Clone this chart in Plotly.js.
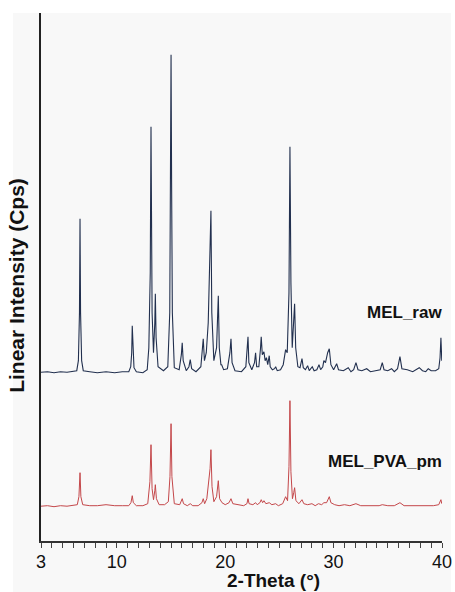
<!DOCTYPE html>
<html>
<head>
<meta charset="utf-8">
<script src="https://cdn.plot.ly/plotly-3.0.1.min.js"></script>
<style>html,body{margin:0;padding:0;background:#fff;}#chart{width:455px;height:592px;}</style>
</head>
<body>
<div id="chart"></div>
<script>
// Tick labels on the 2-Theta axis
const tickValues = [3,4,5,6,7,8,9,10,11,12,13,14,15,16,17,18,19,20,21,22,23,24,25,26,27,28,29,30,31,32,33,34,35,36,37,38,39,40];
const labelledTicks = [3, 10, 20, 30, 40];

// Series names and axis titles
const seriesNames = ["MEL_raw", "MEL_PVA_pm"];
const xTitle = "2-Theta (°)";
const yTitle = "Linear Intensity (Cps)";

// MEL_raw pattern: [2-Theta (°), intensity (a.u.)]
const melRaw = [
 [3.0,0.5],[3.6,1],[4.2,0],[4.8,1],[5.4,0.5],[6.0,1],[6.3,2],
 [6.45,12],[6.55,60],[6.6,154],[6.65,60],[6.75,12],[6.9,2],
 [7.5,1],[8.2,0],[9.0,1],[9.8,0],[10.5,1],[11.1,1],
 [11.28,6],[11.37,20],[11.42,47],[11.48,20],[11.58,5],
 [11.8,1],[12.4,0],[12.8,3],
 [12.95,25],[13.08,100],[13.15,246],[13.25,60],[13.38,20],[13.5,50],[13.55,79],[13.62,35],[13.8,6],
 [14.3,2],[14.7,6],[14.88,60],[14.95,190],[15.0,318],[15.05,190],[15.12,60],[15.3,5],
 [15.75,3],[15.95,18],[16.03,30],[16.12,12],[16.4,2],
 [16.65,6],[16.77,13],[16.9,4],[17.3,1],
 [17.75,6],[17.9,25],[17.97,34],[18.08,12],[18.25,20],[18.43,50],[18.6,110],[18.68,162],[18.76,60],[18.95,12],
 [19.2,25],[19.36,77],[19.45,25],[19.6,8],[19.67,8],[19.85,3],
 [20.2,4],[20.43,20],[20.53,34],[20.63,10],[20.9,2],
 [21.5,1],[21.9,6],[22.03,24],[22.1,36],[22.18,10],[22.45,3],
 [22.7,10],[22.8,20],[22.9,6],[23.1,6],[23.25,24],[23.32,36],[23.42,18],[23.57,21],[23.68,12],[23.8,15],[23.92,8],
 [24.06,17],[24.15,6],[24.35,3],[24.55,4],[24.65,6],[24.8,2],[25.1,3],[25.35,8],[25.5,18],[25.57,23],[25.72,20],
 [25.88,80],[25.97,226],[26.06,90],[26.18,25],[26.3,45],[26.4,69],[26.5,25],[26.7,6],[26.9,5],
 [27.08,14],[27.2,5],[27.4,3],[27.6,7],[27.75,2],[28.03,6],[28.2,2],[28.45,3],[28.65,8],[28.8,3],
 [29.0,6],[29.1,12],[29.25,10],[29.45,20],[29.6,24],[29.75,8],[30.0,3],[30.28,9],[30.45,3],[30.9,2],
 [31.35,5],[31.6,1],[31.85,3],[32.06,10],[32.25,3],[32.6,2],[33.05,4],[33.4,1],[33.8,2],
 [34.3,3],[34.49,10],[34.65,3],[35.0,2],[35.35,4],[35.6,1],[35.9,4],[36.12,16],[36.3,4],
 [36.8,3],[37.3,1],[37.9,5],[38.2,2],[38.5,1],[38.73,4],[39.0,2],[39.4,2],[39.7,4],
 [39.82,15],[39.9,35],[39.98,12]
];

// MEL_PVA_pm pattern: [2-Theta (°), intensity (a.u.)]
const melPvaPm = [
 [3.0,0.5],[3.6,1],[4.2,0],[4.8,1],[5.4,0.5],[6.0,1],[6.35,2],[6.5,10],[6.6,34],[6.68,10],[6.85,2],
 [7.5,1],[8.2,1],[9.0,2],[9.8,1],[10.5,1],[11.1,1],[11.3,4],[11.42,11],[11.52,4],[11.8,1],[12.4,1],
 [12.85,3],[13.05,25],[13.15,62],[13.25,18],[13.38,7],[13.5,16],[13.55,22],[13.65,8],[13.9,2],
 [14.4,2],[14.75,5],[14.9,30],[15.0,83],[15.08,30],[15.3,3],[15.8,2],[16.03,8],[16.15,3],[16.5,1],
 [16.77,3],[17.0,1],[17.5,1],[17.85,4],[17.97,8],[18.1,3],[18.3,8],[18.43,19],[18.6,38],[18.68,57],
 [18.78,20],[18.95,5],[19.2,10],[19.36,26],[19.48,8],[19.7,4],[20.0,2],[20.35,4],[20.53,8],[20.7,3],
 [21.2,2],[21.7,1],[22.0,3],[22.1,8],[22.2,3],[22.55,2],[22.8,4],[22.95,2],[23.2,4],[23.32,7],
 [23.45,4],[23.57,6],[23.75,3],[24.06,4],[24.3,2],[24.65,3],[24.9,1],[25.3,3],[25.57,10],[25.75,6],
 [25.88,40],[25.97,106],[26.06,35],[26.2,8],[26.32,14],[26.4,19],[26.52,6],[26.8,3],[27.08,7],
 [27.25,3],[27.6,2],[28.0,3],[28.3,1],[28.6,3],[28.9,2],[29.1,4],[29.35,4],[29.5,8],[29.6,10],
 [29.75,4],[30.1,2],[30.5,1],[31.0,2],[31.5,1],[32.06,3],[32.5,1],[33.0,1],[33.6,1],[34.2,1],
 [34.49,2],[35.0,1],[35.6,1],[36.12,4],[36.5,1],[37.2,1],[37.8,1],[38.5,1],[39.2,1],[39.7,2],
 [39.85,5],[39.9,7],[39.98,3]
];

// vertical stacking offset of the MEL_raw pattern (a.u.)
const rawOffset = 134;

const font = "Liberation Sans, Arial, sans-serif";

const traces = [
  {
    x: melPvaPm.map(p => p[0]),
    y: melPvaPm.map(p => p[1]),
    name: seriesNames[1], type: "scatter", mode: "lines",
    line: {color: "#c4474a", width: 1}
  },
  {
    x: melRaw.map(p => p[0]),
    y: melRaw.map(p => p[1] + rawOffset),
    name: seriesNames[0], type: "scatter", mode: "lines",
    line: {color: "#22304f", width: 1.1}
  }
];

const layout = {
  width: 455, height: 592,
  margin: {l: 41, r: 13, t: 13, b: 51},
  paper_bgcolor: "#ffffff",
  plot_bgcolor: "rgba(0,0,0,0)",
  showlegend: false,
  font: {family: font, color: "#111"},
  shapes: [{
    type: "rect", xref: "paper", yref: "paper",
    x0: -0.0698, x1: 1.0224, y0: -0.0966, y1: 1,
    fillcolor: "#f8f8f8", line: {width: 0}, layer: "below"
  }],
  xaxis: {
    range: [3, 40], showgrid: false, zeroline: false,
    showline: true, linecolor: "#333", linewidth: 1.5,
    tickmode: "array", tickvals: tickValues,
    ticktext: tickValues.map(v => labelledTicks.includes(v) ? String(v) : ""),
    ticks: "outside", ticklen: 5, tickwidth: 1, tickcolor: "#444",
    ticklabelstandoff: -1,
    tickfont: {family: font, size: 18, color: "#111"}
  },
  yaxis: {
    range: [-34.3, 493.7], showgrid: false, zeroline: false,
    showline: true, linecolor: "#222", linewidth: 2,
    ticks: "", showticklabels: false
  },
  annotations: [
    {text: "<b>" + xTitle + "</b>", xref: "paper", yref: "paper", x: 0.579, y: -0.0739,
     xanchor: "center", yanchor: "middle", showarrow: false, font: {family: font, size: 19, color: "#111"}},
    {text: "<b>" + yTitle + "</b>", xref: "paper", yref: "paper", x: -0.06, y: 0.485, textangle: -90,
     xanchor: "center", yanchor: "middle", showarrow: false, font: {family: font, size: 21, color: "#111"}},
    {text: "<b>" + seriesNames[0] + "</b>", xref: "paper", yref: "paper", x: 1.004, y: 0.432,
     xanchor: "right", yanchor: "middle", showarrow: false, font: {family: font, size: 17, color: "#111"}},
    {text: "<b>" + seriesNames[1] + "</b>", xref: "paper", yref: "paper", x: 1.004, y: 0.1515,
     xanchor: "right", yanchor: "middle", showarrow: false, font: {family: font, size: 17, color: "#111"}}
  ]
};

Plotly.newPlot("chart", traces, layout, {displayModeBar: false, staticPlot: true});
</script>
</body>
</html>
